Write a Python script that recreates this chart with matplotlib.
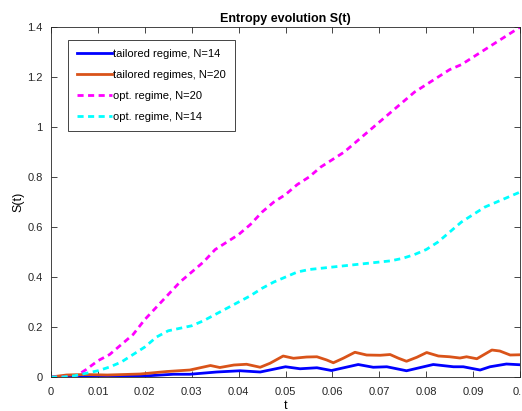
import matplotlib
matplotlib.use('Agg')

import matplotlib.pyplot as plt

# tailored regime, N=14 (blue)
t_blue = [0, 0.004, 0.012, 0.019, 0.0261, 0.0296, 0.0353, 0.0403, 0.0446, 0.05, 0.0531,
          0.0567, 0.0598, 0.0655, 0.0687, 0.0716, 0.0758, 0.0815, 0.0858, 0.0879,
          0.0915, 0.0936, 0.0971, 0.1]
s_blue = [0, 0.002, 0.004, 0.003, 0.011, 0.011, 0.02, 0.025, 0.02, 0.041, 0.033,
          0.037, 0.026, 0.05, 0.039, 0.041, 0.025, 0.05, 0.041, 0.041,
          0.028, 0.041, 0.052, 0.049]

# tailored regimes, N=20 (orange)
t_orange = [0, 0.0033, 0.007, 0.012, 0.019, 0.0247, 0.0296, 0.034, 0.036, 0.039, 0.0417,
            0.0446, 0.0467, 0.0495, 0.0517, 0.0545, 0.0567, 0.0588, 0.0602, 0.0623,
            0.0648, 0.0673, 0.0702, 0.0723, 0.0741, 0.0758, 0.078, 0.0801, 0.0826,
            0.085, 0.0872, 0.0886, 0.0908, 0.094, 0.0957, 0.0979, 0.1]
s_orange = [0, 0.008, 0.01, 0.008, 0.012, 0.022, 0.028, 0.046, 0.038, 0.048, 0.051,
            0.039, 0.055, 0.084, 0.075, 0.08, 0.081, 0.068, 0.057, 0.075,
            0.099, 0.088, 0.087, 0.09, 0.075, 0.063, 0.079, 0.098, 0.084,
            0.081, 0.076, 0.081, 0.073, 0.108, 0.104, 0.088, 0.089]

# opt. regime, N=20 (magenta)
t_mag = [0, 0.005, 0.0075, 0.01, 0.0125, 0.015, 0.0175, 0.02, 0.0225, 0.025, 0.0275,
         0.03, 0.0325, 0.035, 0.0375, 0.04, 0.0425, 0.045, 0.0475, 0.05, 0.0525,
         0.055, 0.0575, 0.06, 0.0625, 0.065, 0.0675, 0.07, 0.0725, 0.075, 0.0775,
         0.08, 0.0825, 0.085, 0.0875, 0.09, 0.0925, 0.095, 0.0975, 0.1]
s_mag = [0, 0, 0.03, 0.065, 0.09, 0.13, 0.17, 0.23, 0.28, 0.33, 0.38,
         0.42, 0.46, 0.51, 0.54, 0.57, 0.61, 0.66, 0.70, 0.73, 0.77,
         0.80, 0.84, 0.87, 0.90, 0.94, 0.98, 1.02, 1.06, 1.10, 1.14,
         1.17, 1.20, 1.23, 1.25, 1.28, 1.31, 1.34, 1.37, 1.40]

# opt. regime, N=14 (cyan)
t_cyan = [0, 0.0025, 0.005, 0.0075, 0.01, 0.0125, 0.015, 0.0175, 0.02, 0.0225, 0.025,
          0.0275, 0.03, 0.0325, 0.035, 0.0375, 0.04, 0.0425, 0.045, 0.0475, 0.05,
          0.0525, 0.055, 0.0575, 0.06, 0.0625, 0.065, 0.0675, 0.07, 0.0725, 0.075,
          0.0775, 0.08, 0.0825, 0.085, 0.0875, 0.09, 0.0925, 0.095, 0.0975, 0.1]
s_cyan = [0, 0, 0.005, 0.015, 0.025, 0.04, 0.06, 0.09, 0.12, 0.16, 0.185,
          0.195, 0.205, 0.225, 0.25, 0.275, 0.30, 0.325, 0.355, 0.38, 0.40,
          0.42, 0.43, 0.435, 0.44, 0.445, 0.45, 0.455, 0.46, 0.465, 0.475,
          0.49, 0.51, 0.54, 0.58, 0.62, 0.65, 0.68, 0.70, 0.72, 0.74]

x_ticks = [0, 0.01, 0.02, 0.03, 0.04, 0.05, 0.06, 0.07, 0.08, 0.09, 0.1]
x_labels = ['0', '0.01', '0.02', '0.03', '0.04', '0.05', '0.06', '0.07', '0.08', '0.09', '0.1']
y_ticks = [0, 0.2, 0.4, 0.6, 0.8, 1.0, 1.2, 1.4]
y_labels = ['0', '0.2', '0.4', '0.6', '0.8', '1', '1.2', '1.4']

plt.rcParams['font.family'] = ['Liberation Sans', 'DejaVu Sans']

fig = plt.figure(figsize=(5.22, 4.11), dpi=100)
ax = fig.add_axes([0.0977, 0.0827, 0.8985, 0.8513])

ax.plot(t_blue, s_blue, color='#0000ff', lw=2, label='tailored regime, N=14')
ax.plot(t_orange, s_orange, color='#d95319', lw=2, label='tailored regimes, N=20')
ax.plot(t_mag, s_mag, color='#ff00ff', lw=2, dashes=(2.2, 1.6), label='opt. regime, N=20')
ax.plot(t_cyan, s_cyan, color='#00ffff', lw=2, dashes=(2.2, 1.6), label='opt. regime, N=14')

ax.set_xlim(0, 0.1)
ax.set_ylim(0, 1.4)
ax.set_xticks(x_ticks)
ax.set_xticklabels(x_labels)
ax.set_yticks(y_ticks)
ax.set_yticklabels(y_labels)
ax.tick_params(direction='in', top=True, right=True, labelsize=8, colors='#262626',
               length=4, width=0.6)
ax.tick_params(axis='x', pad=7)
ax.tick_params(axis='y', pad=6)
for sp in ax.spines.values():
    sp.set_color('#262626')
    sp.set_linewidth(0.6)

ax.set_xlabel('t', fontsize=9, labelpad=2)
ax.set_ylabel('S(t)', fontsize=9, labelpad=2)
ax.set_title('Entropy evolution S(t)', fontsize=9, fontweight='bold', pad=4)

leg = ax.legend(loc='upper left', bbox_to_anchor=(0.036, 0.963), borderaxespad=0,
                fontsize=8, handlelength=3.2, handletextpad=0.1, labelspacing=1.0,
                fancybox=False, framealpha=1, borderpad=0.8)
leg.get_frame().set_edgecolor('#262626')
leg.get_frame().set_linewidth(0.6)

plt.savefig('out.png', dpi=100)
plt.close()
